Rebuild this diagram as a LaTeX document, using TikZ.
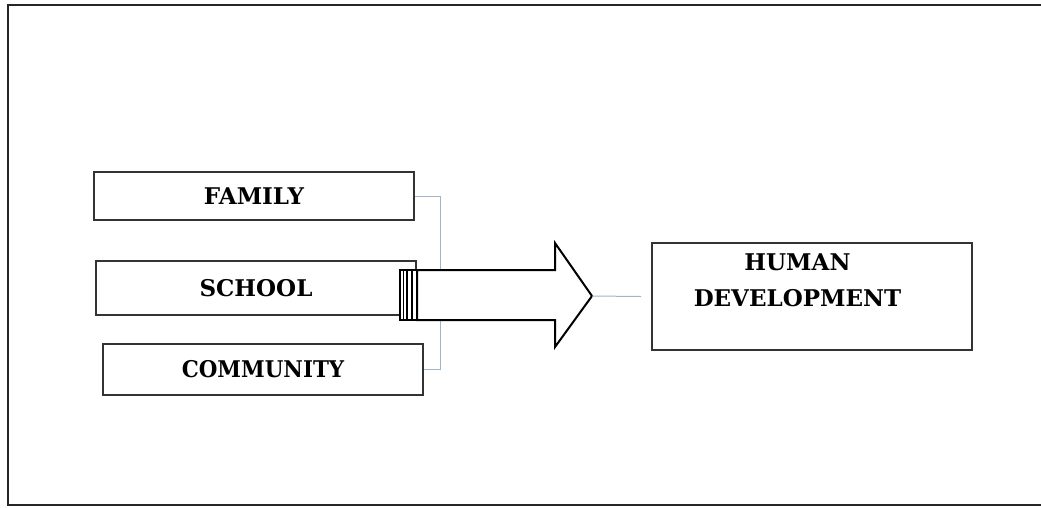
\documentclass[tikz,border=0pt]{standalone}
\usepackage{fontspec}
\newfontfamily\boxfont{DejaVu Serif}
\definecolor{connblue}{RGB}{160,182,200}
\begin{document}
\begin{tikzpicture}[x=1pt,y=-1pt,
  lbl/.style={font=\boxfont\bfseries\fontsize{23}{36}\selectfont,align=center},
  box/.style={lbl,draw=black!80,line width=1.6pt,minimum width=320pt,inner sep=0pt},
  conn/.style={draw=connblue,line width=1pt},
  bigarrow/.style={draw=black,line width=2pt,fill=white,line join=miter},
  frame/.style={draw=black!85,line width=2pt}]
\useasboundingbox (0,0) rectangle (1041,507);
\fill[white] (0,0) rectangle (1041,507);
\draw[frame] (1050,5) -- (8,5) -- (8,505) -- (1050,505);
\node[box,minimum height=48pt] (family) at (254,196) {FAMILY};
\node[box,minimum height=54pt] (school) at (256,288) {SCHOOL};
\node[box,minimum height=51pt] (community) at (263,369.5) {\scalebox{0.93}[1]{COMMUNITY}};
\node[box,minimum height=107pt] (hd) at (812,296.5) {};
\node[lbl,anchor=north,inner sep=0pt] (hdtext) at (797.5,254) {HUMAN\\DEVELOPMENT};
\draw[conn] (family.east) -- ++(26,0) |- (community.east);
% big arrow from school towards human development
\coordinate (tip) at (592,296);
\draw[bigarrow] (417,270) -- (555,270) -- (555,243) -- (tip) -- (555,347) -- (555,320) -- (417,320) -- cycle;
\draw[bigarrow] (400,270) rectangle (417,320);
\foreach \x in {403.5,407,412}{\draw[black,line width=1.8pt] (\x,270) -- (\x,320);}
\draw[conn] (tip) -- ([xshift=-10pt]hd.west);
\end{tikzpicture}
\end{document}
